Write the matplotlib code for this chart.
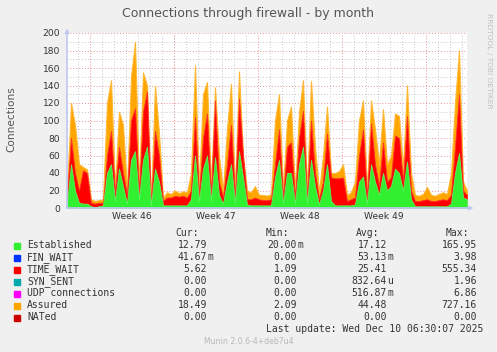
import numpy as np
import matplotlib
matplotlib.use("Agg")
import matplotlib.pyplot as plt

# samples every 8 hours over the month window
established = [5, 50, 20, 6, 5, 5, 2, 1, 2, 3, 40, 50, 8, 45, 25, 5, 55, 65, 10, 55, 70,
               3, 45, 30, 3, 3, 3, 3, 3, 3, 3, 10, 60, 8, 45, 60, 8, 58, 15, 5, 30, 50,
               6, 65, 35, 4, 3, 3, 3, 3, 3, 3, 35, 55, 5, 40, 40, 5, 50, 70, 5, 55, 25,
               4, 20, 50, 8, 3, 3, 3, 3, 3, 4, 30, 36, 5, 50, 30, 15, 40, 20, 25, 45, 40,
               20, 53, 10, 2, 2, 2, 2, 2, 2, 2, 2, 2, 5, 40, 63, 12, 10]
time_wait = [14, 80, 40, 20, 43, 40, 6, 5, 6, 6, 60, 88, 18, 70, 40, 15, 100, 114, 18, 110, 133,
             5, 88, 60, 8, 12, 12, 14, 13, 14, 12, 20, 104, 15, 80, 108, 15, 123, 30, 12, 50, 95,
             12, 125, 60, 10, 10, 12, 10, 9, 9, 10, 50, 90, 12, 70, 75, 12, 80, 111, 12, 100, 40,
             10, 30, 85, 35, 34, 34, 35, 8, 10, 12, 60, 90, 12, 97, 50, 25, 75, 30, 35, 83, 80,
             30, 105, 20, 8, 8, 9, 10, 8, 8, 9, 10, 9, 15, 70, 130, 20, 15]
assured = [17, 120, 95, 50, 47, 44, 10, 8, 9, 10, 120, 146, 22, 110, 95, 20, 150, 190, 25, 155, 140,
           8, 140, 85, 12, 18, 16, 20, 17, 19, 18, 40, 163, 25, 130, 144, 25, 138, 60, 20, 90, 142,
           20, 156, 60, 20, 18, 25, 15, 15, 14, 16, 100, 130, 20, 100, 116, 20, 110, 146, 20, 145, 70,
           18, 60, 116, 40, 40, 42, 50, 15, 18, 30, 100, 123, 20, 123, 90, 50, 113, 50, 60, 108, 105,
           45, 140, 40, 15, 14, 16, 24, 15, 14, 16, 18, 16, 40, 120, 180, 30, 20]

week_labels = ["Week 46", "Week 47", "Week 48", "Week 49"]

legend_names = ["Established", "FIN_WAIT", "TIME_WAIT", "SYN_SENT",
                "UDP connections", "Assured", "NATed"]
legend_colors = ["#30f030", "#0033ff", "#ff0000", "#00aaaa", "#ff00ff", "#ffa500", "#cc0000"]
cur = [("12.79", " "), ("41.67", "m"), ("5.62", " "), ("0.00", " "), ("0.00", " "), ("18.49", " "), ("0.00", " ")]
mins = [("20.00", "m"), ("0.00", " "), ("1.09", " "), ("0.00", " "), ("0.00", " "), ("2.09", " "), ("0.00", " ")]
avgs = [("17.12", " "), ("53.13", "m"), ("25.41", " "), ("832.64", "u"), ("516.87", "m"), ("44.48", " "), ("0.00", " ")]
maxs = [("165.95", ""), ("3.98", ""), ("555.34", ""), ("1.96", ""), ("6.86", ""), ("727.16", ""), ("0.00", "")]

W, H = 497, 352


def px(x, y):
    return x / W, 1 - y / H


fig = plt.figure(figsize=(W / 100, H / 100), dpi=100, facecolor="#f0f0f0")
ax = fig.add_axes([67 / W, 1 - 208 / H, 400 / W, 175 / H])
ax.set_facecolor("white")

t = np.arange(len(established)) * 8 / 24.0
ax.fill_between(t, 0, assured, color="#ffa500", lw=0.8, edgecolor="#ffb733")
ax.fill_between(t, 0, time_wait, color="#ff0000", lw=0.6, edgecolor="#ff3030")
ax.fill_between(t, 0, established, color="#30f030", lw=0.6, edgecolor="#60f060")

xmax = 400 / 12.0
ax.set_xlim(0, xmax)
ax.set_ylim(0, 200)

# grid
dot = (0, (1, 2))
for v in range(10, 201, 20):
    ax.axhline(v, color="#c8c8c8", lw=0.7, ls=dot, zorder=0)
for v in range(20, 201, 20):
    ax.axhline(v, color="#ec9090", lw=0.7, ls=dot, zorder=0)
week0 = 23 / 12.0
for d in np.arange(week0 - 1, xmax, 1.0):
    if d > 0 and abs((d - week0) % 7) > 0.01:
        ax.axvline(d, color="#c8c8c8", lw=0.7, ls=dot, zorder=0)
for k in range(5):
    ax.axvline(week0 + 7 * k, color="#ec9090", lw=0.7, ls=dot, zorder=0)

ax.set_yticks(range(0, 201, 20))
ax.set_xticks([week0 + 3.5 + 7 * k for k in range(4)])
ax.set_xticklabels(week_labels)
ax.tick_params(length=0, labelsize=6.6, colors="#333333", pad=3)
ax.tick_params(axis="y", pad=5)
for s in ax.spines.values():
    s.set_visible(False)

# axis lines with arrows
arr = dict(arrowstyle="-|>", color="#c0c8f0", lw=0.9, mutation_scale=6)
fig.add_artist(plt.annotate("", xy=px(67, 26), xytext=px(67, 211),
                            xycoords="figure fraction", textcoords="figure fraction", arrowprops=arr))
fig.add_artist(plt.annotate("", xy=px(476, 208), xytext=px(64, 208),
                            xycoords="figure fraction", textcoords="figure fraction", arrowprops=arr))

fig.text(*px(248, 14), "Connections through firewall - by month", ha="center", va="center",
         fontsize=9, color="#555555")
fig.text(*px(11, 119), "Connections", rotation=90, ha="center", va="center",
         fontsize=7.6, color="#555555")
fig.text(*px(489, 61), "RRDTOOL / TOBI OETIKER", rotation=-90, ha="center", va="center",
         fontsize=5.4, color="#c0c0c0")

# legend block
mono = "DejaVu Sans Mono"
fs = 7
hdr_y = 233.5
for x, h in zip([199, 289, 379, 469], ["Cur:", "Min:", "Avg:", "Max:"]):
    fig.text(*px(x, hdr_y), h, ha="right", va="center", family=mono, fontsize=fs, color="#333333")
for i, name in enumerate(legend_names):
    y = hdr_y + 12 * (i + 1)
    fig.patches.append(plt.Rectangle(px(14, y + 3), 6 / W, 6 / H, transform=fig.transFigure,
                                     color=legend_colors[i], figure=fig))
    fig.text(*px(27, y), name, ha="left", va="center", family=mono, fontsize=fs, color="#333333")
    for xe, col in zip([207, 297, 387, 477], [cur, mins, avgs, maxs]):
        num, suf = col[i]
        fig.text(*px(xe, y), num, ha="right", va="center", family=mono, fontsize=fs, color="#333333")
        if suf.strip():
            fig.text(*px(xe, y), suf, ha="left", va="center", family=mono, fontsize=fs, color="#333333")
fig.text(*px(483, 329.5), "Last update: Wed Dec 10 06:30:07 2025", ha="right", va="center",
         family=mono, fontsize=fs, color="#333333")
fig.text(*px(249, 341.5), "Munin 2.0.6-4+deb7u4", ha="center", va="center",
         fontsize=5.6, color="#b8b8b8")

fig.savefig("out.png", dpi=100, facecolor=fig.get_facecolor())
